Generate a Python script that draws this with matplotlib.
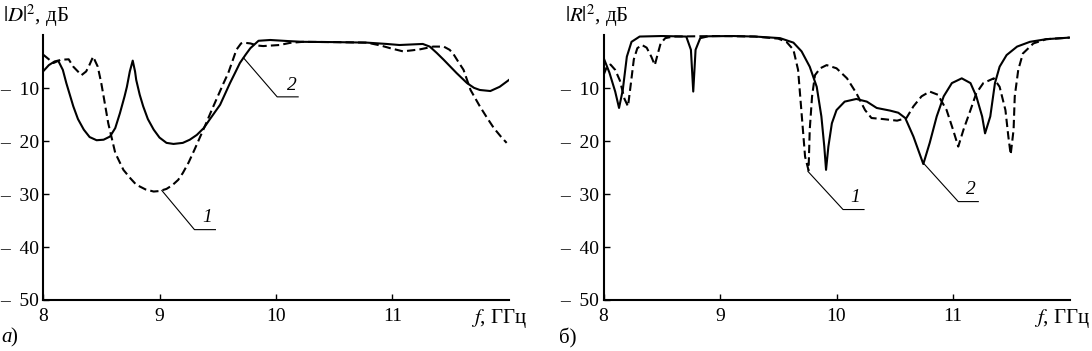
import numpy as np
import matplotlib
matplotlib.use('Agg')
import matplotlib.pyplot as plt

plt.rcParams['font.family'] = ['Liberation Serif', 'DejaVu Serif']
plt.rcParams['mathtext.fontset'] = 'stix'

# ---- data ----
# panel a) |D|^2, dB
d_f1 = [8.00, 8.05, 8.09, 8.15, 8.22, 8.26, 8.33, 8.37, 8.40, 8.43, 8.47, 8.50, 8.52, 8.56,
        8.62, 8.69, 8.75, 8.80, 8.88, 8.95, 9.00, 9.06, 9.11, 9.16, 9.20, 9.25, 9.30, 9.35,
        9.40, 9.45, 9.50, 9.55, 9.59, 9.63, 9.66, 9.70, 9.72, 9.78, 9.84, 9.89, 9.96, 10.03,
        10.12, 10.23, 10.50, 10.78, 10.90, 10.98, 11.09, 11.17, 11.24, 11.35, 11.44, 11.49,
        11.52, 11.56, 11.61, 11.67, 11.75, 11.81, 11.87, 11.93, 11.98]
d_db1 = [-3.6, -4.5, -5.2, -4.6, -4.5, -5.9, -7.5, -6.8, -5.5, -4.0, -5.9, -9.0, -11.5, -16.6,
         -22.2, -25.4, -27.0, -28.2, -29.1, -29.5, -29.4, -29.0, -28.3, -27.3, -26.0, -24.0, -21.6, -19.1,
         -16.6, -14.0, -11.5, -9.0, -7.1, -4.6, -2.7, -1.5, -1.35, -1.5, -1.9, -2.0, -1.9, -1.8,
         -1.4, -1.2, -1.25, -1.35, -1.9, -2.4, -3.0, -2.8, -2.6, -2.1, -2.1, -2.7,
         -3.4, -4.8, -6.5, -10.3, -13.4, -15.5, -17.5, -19.1, -20.3]

d_f2 = [8.00, 8.05, 8.10, 8.13, 8.17, 8.20, 8.26, 8.30, 8.35, 8.40, 8.46, 8.52, 8.575, 8.62,
        8.66, 8.70, 8.72, 8.745, 8.77, 8.79, 8.80, 8.83, 8.86, 8.90, 8.95, 9.00, 9.06, 9.12,
        9.20, 9.26, 9.32, 9.38, 9.43, 9.52, 9.605, 9.65, 9.69, 9.74, 9.78, 9.85, 9.95, 10.10,
        10.23, 10.50, 10.78, 10.95, 11.06, 11.16, 11.26, 11.32, 11.38, 11.44, 11.55, 11.64,
        11.70, 11.75, 11.84, 11.92, 12.00]
d_db2 = [-6.8, -5.6, -4.9, -4.75, -6.5, -9.0, -13.4, -15.8, -17.8, -19.2, -19.8, -19.7, -19.1, -17.5,
         -14.7, -11.5, -9.7, -6.8, -4.75, -6.8, -8.4, -11.2, -13.4, -15.8, -17.8, -19.3, -20.3, -20.5,
         -20.3, -19.7, -18.8, -17.5, -15.9, -13.1, -9.0, -7.0, -5.2, -3.6, -2.4, -1.0, -0.85, -1.05,
         -1.2, -1.25, -1.35, -1.6, -1.8, -1.7, -1.6, -2.1, -3.3, -4.6, -7.1, -9.0,
         -9.9, -10.3, -10.5, -9.7, -8.4]

# panel б) |R|^2, dB
r_f1 = [8.00, 8.03, 8.06, 8.10, 8.14, 8.18, 8.21, 8.235, 8.26, 8.29, 8.33, 8.37, 8.41, 8.44,
        8.465, 8.49, 8.53, 8.60, 9.00, 9.30, 9.50, 9.57, 9.63, 9.67, 9.70, 9.73, 9.76, 9.77,
        9.79, 9.815, 9.86, 9.915, 10.00, 10.09, 10.17, 10.245, 10.30, 10.40, 10.52, 10.60, 10.66,
        10.73, 10.80, 10.87, 10.945, 11.00, 11.045, 11.09, 11.15, 11.20, 11.26, 11.35, 11.40,
        11.45, 11.475, 11.495, 11.52, 11.53, 11.56, 11.60, 11.69, 11.80, 12.00]
r_db1 = [-7.5, -5.8, -5.5, -6.5, -8.5, -12.0, -13.4, -9.0, -4.5, -2.4, -1.8, -2.3, -4.0, -5.6,
         -3.5, -1.5, -0.5, -0.2, -0.1, -0.2, -0.6, -1.2, -2.7, -6.5, -14.7, -22.9, -25.5, -17.8,
         -11.5, -7.5, -6.2, -5.6, -6.2, -8.1, -10.9, -14.1, -15.6, -15.8, -16.1, -15.6, -13.4,
         -11.5, -10.6, -11.2, -14.1, -17.8, -21.0, -17.8, -14.1, -10.9, -9.0, -8.1, -9.7,
         -14.1, -19.1, -22.5, -17.8, -11.5, -6.5, -3.4, -1.5, -0.7, -0.4]

r_f2 = [8.00, 8.05, 8.10, 8.133, 8.165, 8.20, 8.24, 8.31, 8.50, 8.71, 8.75, 8.77, 8.79, 8.83,
        8.90, 9.11, 9.30, 9.515, 9.63, 9.70, 9.77, 9.83, 9.87, 9.895, 9.91, 9.93, 9.96, 10.00,
        10.07, 10.17, 10.26, 10.345, 10.46, 10.53, 10.59, 10.66, 10.745, 10.80, 10.86, 10.92,
        10.99, 11.075, 11.15, 11.20, 11.25, 11.275, 11.32, 11.36, 11.40, 11.46, 11.55, 11.66,
        11.80, 12.00]
r_db2 = [-4.2, -7.0, -10.6, -13.7, -10.3, -4.0, -1.2, -0.2, -0.1, -0.2, -2.7, -10.6, -2.7, -0.5,
         -0.15, -0.1, -0.2, -0.5, -1.35, -3.0, -5.9, -9.7, -15.3, -21.0, -25.4, -21.0, -16.6, -14.1,
         -12.5, -12.0, -12.5, -13.7, -14.2, -14.6, -15.6, -19.1, -24.3, -20.3, -15.3, -11.5,
         -9.0, -8.1, -9.0, -11.5, -15.3, -18.5, -15.3, -9.0, -5.9, -3.7, -2.1, -1.2,
         -0.7, -0.4]

xticks = [8, 9, 10, 11]
xticklabels = ['8', '9', '10', '11']
yticks = [-50, -40, -30, -20, -10]
yticklabels = ['\u2013  50', '\u2013  40', '\u2013  30', '\u2013  20', '\u2013  10']

fs = 14
cfs = 15
lw = 1.5
thin = 0.8

fig = plt.figure(figsize=(10.92, 3.51), dpi=100)
ax1 = fig.add_axes([0.0394, 0.1453, 0.4267, 0.7536])
ax2 = fig.add_axes([0.5527, 0.1453, 0.4267, 0.7536])

for ax in [ax1, ax2]:
    ax.set_xlim(8, 12)
    ax.set_ylim(-50, 0)
    for s in ['top', 'right']:
        ax.spines[s].set_visible(False)
    for s in ['left', 'bottom']:
        ax.spines[s].set_linewidth(1.5)
    ax.set_xticks(xticks)
    ax.set_xticklabels(xticklabels)
    ax.set_yticks(yticks)
    ax.set_yticklabels(yticklabels)
    ax.tick_params(axis='both', direction='in', length=4.5, width=1, labelsize=fs)
    ax.tick_params(axis='x', pad=6)
    ax.tick_params(axis='y', pad=3)

# panel a)
ax1.plot(d_f1, d_db1, color='black', lw=lw, dashes=(4, 2))
ax1.plot(d_f2, d_db2, color='black', lw=lw)
ax1.plot([9.72, 10.01, 10.19], [-4.2, -11.6, -11.6], color='black', lw=thin)
ax1.text(10.14, -11.0, '2', fontsize=fs, fontstyle='italic', ha='center', va='bottom')
ax1.plot([9.02, 9.30, 9.48], [-29.3, -36.7, -36.7], color='black', lw=thin)
ax1.text(9.41, -36.1, '1', fontsize=fs, fontstyle='italic', ha='center', va='bottom')

# panel б)
ax2.plot(r_f1, r_db1, color='black', lw=lw, dashes=(4, 2))
ax2.plot(r_f2, r_db2, color='black', lw=lw)
ax2.plot([9.755, 10.056, 10.236], [-25.7, -32.9, -32.9], color='black', lw=thin)
ax2.text(10.16, -32.3, '1', fontsize=fs, fontstyle='italic', ha='center', va='bottom')
ax2.plot([10.745, 11.045, 11.217], [-24.1, -31.4, -31.4], color='black', lw=thin)
ax2.text(11.15, -30.8, '2', fontsize=fs, fontstyle='italic', ha='center', va='bottom')

# axis captions
fig.text(3 / 1092, 1 - 16 / 351, r'$|D|^2$, дБ', fontsize=cfs, ha='left', va='center')
fig.text(565 / 1092, 1 - 16 / 351, r'$|R|^2$, дБ', fontsize=cfs, ha='left', va='center')
fig.text(471 / 1092, 1 - 318 / 351, r'$f$, ГГц', fontsize=cfs, ha='left', va='center')
fig.text(1034 / 1092, 1 - 318 / 351, r'$f$, ГГц', fontsize=cfs, ha='left', va='center')

# panel letters
fig.text(1 / 1092, 1 - 338 / 351, 'а', fontsize=cfs, fontstyle='italic', ha='left', va='center')
fig.text(10 / 1092, 1 - 338 / 351, ')', fontsize=cfs, ha='left', va='center')
fig.text(559 / 1092, 1 - 338 / 351, 'б)', fontsize=cfs, ha='left', va='center')

fig.savefig('out.png', dpi=100)
